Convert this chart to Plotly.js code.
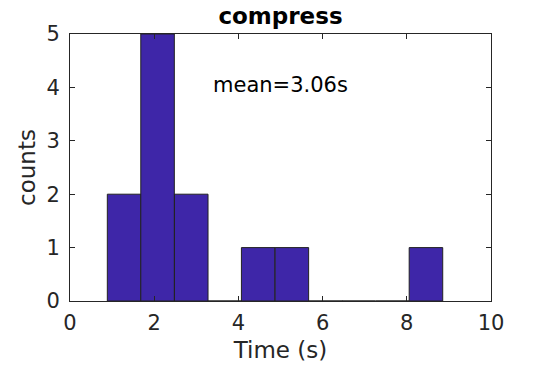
<!DOCTYPE html>
<html>
<head>
<meta charset="utf-8">
<script src="https://cdn.plot.ly/plotly-3.0.1.min.js"></script>
<style>html,body{margin:0;padding:0;background:#fff;}#chart{width:542px;height:365px;}</style>
</head>
<body>
<div id="chart"></div>
<script>
// Histogram bins (centers in seconds) and counts
const binCenters = [1.285, 2.08, 2.88, 3.675, 4.47, 5.27, 6.07, 6.86, 7.66, 8.455];
const binWidth = 0.797;
const counts = [2, 5, 2, 0, 1, 1, 0, 0, 0, 1];
const xTicks = [0, 2, 4, 6, 8, 10];
const yTicks = [0, 1, 2, 3, 4, 5];
const titleText = 'compress';
const meanLabel = 'mean=3.06s';
const xLabel = 'Time (s)';
const yLabel = 'counts';

const font = 'DejaVu Sans, sans-serif';
const ink = '#262626';

const trace = {
  type: 'bar',
  x: binCenters,
  y: counts,
  width: binCenters.map(() => binWidth),
  marker: { color: 'rgb(62,38,168)', line: { color: '#222222', width: 1 } },
  hoverinfo: 'skip'
};

const axisCommon = {
  showgrid: false,
  zeroline: false,
  showline: true,
  linecolor: ink,
  linewidth: 1,
  mirror: 'ticks',
  ticks: 'inside',
  ticklen: 5,
  tickwidth: 1,
  tickcolor: ink,
  tickfont: { family: font, size: 21, color: ink },
  fixedrange: true
};

const layout = {
  width: 542,
  height: 365,
  margin: { l: 70, r: 51, t: 34, b: 64 },
  paper_bgcolor: '#ffffff',
  plot_bgcolor: '#ffffff',
  showlegend: false,
  bargap: 0,
  title: {
    text: '<b>' + titleText + '</b>',
    font: { family: font, size: 23, color: '#000' },
    xref: 'paper', x: 0.5, xanchor: 'center',
    yref: 'container', y: 0.955, yanchor: 'middle'
  },
  xaxis: Object.assign({}, axisCommon, {
    range: [0, 10],
    tickvals: xTicks,
    ticktext: xTicks.map(String),
    ticklabelstandoff: 3,
    title: { text: xLabel, font: { family: font, size: 23, color: ink }, standoff: 7 }
  }),
  yaxis: Object.assign({}, axisCommon, {
    range: [0, 5],
    tickvals: yTicks,
    ticktext: yTicks.map(String),
    ticklabelstandoff: 5,
    title: { text: yLabel, font: { family: font, size: 23, color: ink }, standoff: 4 }
  }),
  annotations: [{
    x: 3.35, y: 4.05, xref: 'x', yref: 'y',
    xanchor: 'left', yanchor: 'middle',
    text: meanLabel, showarrow: false,
    font: { family: font, size: 21, color: '#000' }
  }]
};

Plotly.newPlot('chart', [trace], layout, { displayModeBar: false, staticPlot: true });
</script>
</body>
</html>
